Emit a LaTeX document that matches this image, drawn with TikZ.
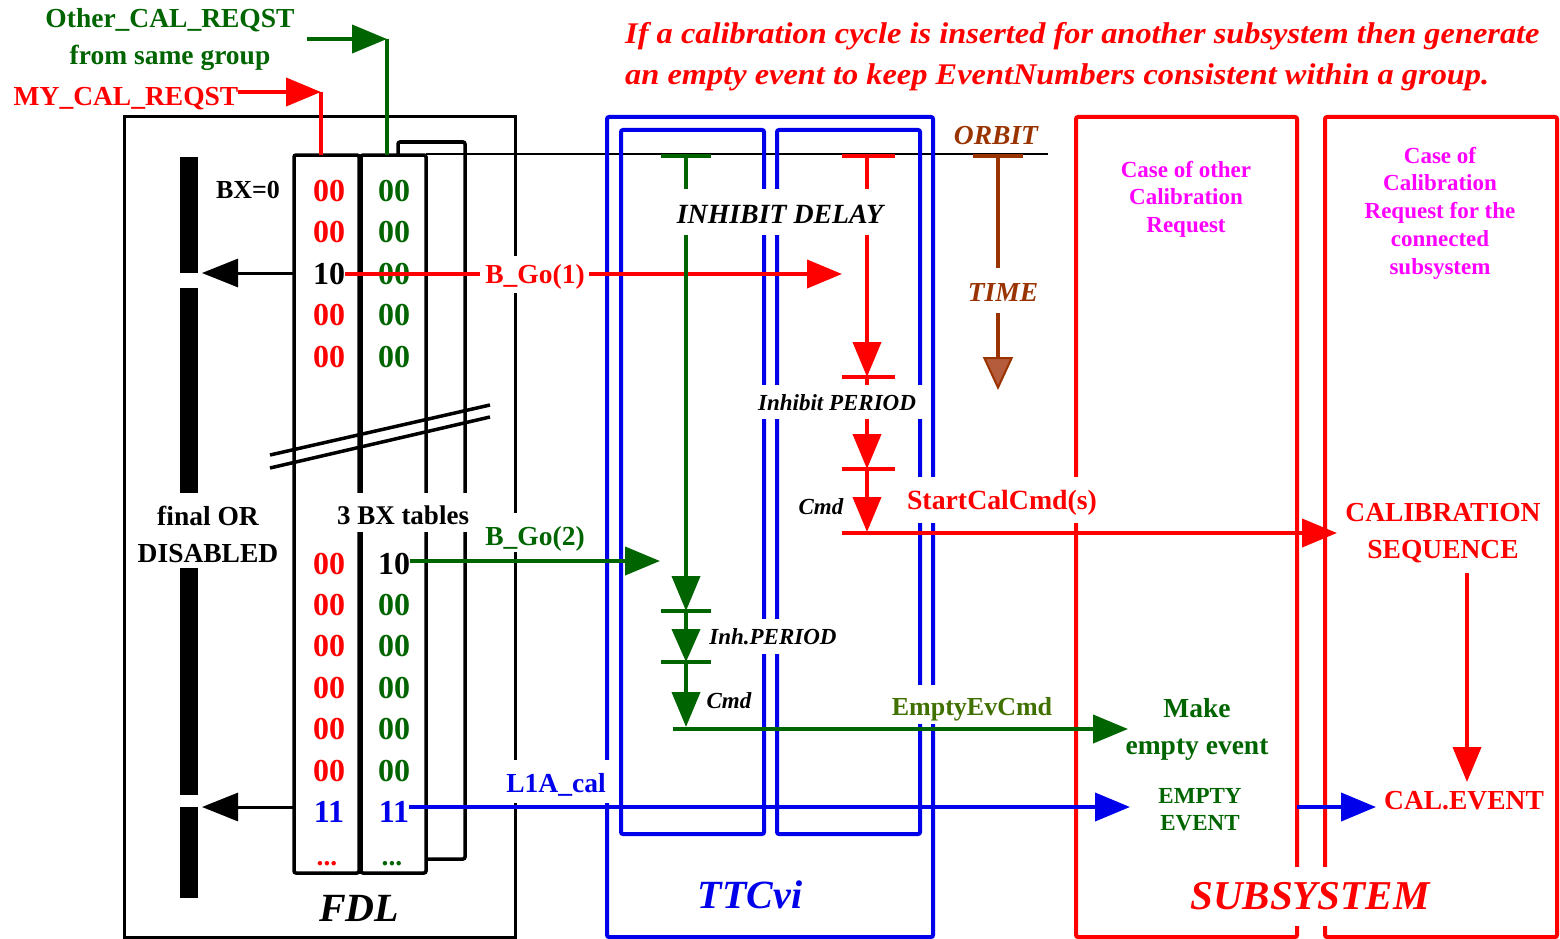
\documentclass[tikz,border=0pt]{standalone}
\usepackage{fontspec}
\setmainfont{Liberation Serif}
\usetikzlibrary{arrows.meta}
\definecolor{cred}{RGB}{255,0,0}
\definecolor{cgreen}{RGB}{0,100,0}
\definecolor{cblue}{RGB}{0,0,235}
\definecolor{cmag}{RGB}{255,0,255}
\definecolor{cbrown}{RGB}{153,51,0}
\definecolor{cbrownfill}{RGB}{181,92,60}
\definecolor{colive}{RGB}{64,112,0}
\begin{document}
\begin{tikzpicture}[x=1pt,y=-1pt,
  fb/.style={font=\bfseries\fontsize{27.5}{32}\selectfont, inner sep=0pt},
  fbi/.style={font=\bfseries\itshape\fontsize{27.5}{32}\selectfont, inner sep=0pt},
  fbig/.style={font=\bfseries\itshape\fontsize{41}{45}\selectfont, inner sep=0pt},
  fsm/.style={font=\bfseries\itshape\fontsize{23}{27}\selectfont, inner sep=0pt},
  dig/.style={font=\bfseries\fontsize{32}{36}\selectfont, inner sep=0pt},
  gap/.style={fill=white},
  blk/.style={draw=black, line width=3pt},
  tab/.style={draw=black, line width=3.5pt, rounded corners=2pt},
  bbox/.style={draw=cblue, line width=4pt, rounded corners=2pt},
  rbox/.style={draw=cred, line width=4pt, rounded corners=2pt},
  tip/.style={-{Triangle[length=35pt,width=28pt]}},
  redl/.style={draw=cred, line width=4pt},
  grnl/.style={draw=cgreen, line width=4pt},
  blul/.style={draw=cblue, line width=4pt},
  brnl/.style={draw=cbrown, line width=4pt}
]
\useasboundingbox (0,0) rectangle (1560,939);

% ---------------- FDL structure ----------------
\draw[blk] (124,117) rectangle (515,937);
\draw[tab] (294,155) rectangle (359,873);
\draw[tab] (361,155) rectangle (426,873);
\draw[tab] (398,155) -- (398,142) -- (465,142) -- (465,859) -- (426,859);
\draw[line width=1.5pt] (426,154) -- (1048,154);
% final OR bar
\fill (180,157) rectangle (198,273);
\fill (180,288) rectangle (198,493);
\fill (180,568) rectangle (198,795);
\fill (180,807) rectangle (198,898);
% break marks
\draw[line width=3.5pt] (270,455) -- (490,405);
\draw[line width=3.5pt] (270,468) -- (490,417);

% ---------------- TTCvi ----------------
\draw[bbox] (607,117) rectangle (933,937);
\draw[bbox] (621,130) rectangle (764,834);
\draw[bbox] (777,130) rectangle (920,834);

% ---------------- SUBSYSTEM ----------------
\draw[rbox] (1076,117) rectangle (1297,937);
\draw[rbox] (1325,117) rectangle (1557,937);

% ---------------- table entries ----------------
\foreach \y/\n in {191/1,232/2,315/4,357/5}{
  \node[dig,text=cred] (ra\n) at (329,\y) {00};
  \node[dig,text=cgreen] (ga\n) at (394,\y) {00};
}
\node[dig] (ra3) at (329,274) {10};
\node[dig,text=cgreen] (ga3) at (394,274) {00};
\node[dig,text=cred] (rb1) at (329,564) {00};
\node[dig] (gb1) at (394,564) {10};
\foreach \y/\n in {605/2,646/3,688/4,729/5,771/6}{
  \node[dig,text=cred] (rb\n) at (329,\y) {00};
  \node[dig,text=cgreen] (gb\n) at (394,\y) {00};
}
\node[dig,text=cblue] (rb7) at (329,812) {11};
\node[dig,text=cblue] (gb7) at (394,812) {11};
\node[fb,text=cred,anchor=base] (rdots) at (327,865) {...};
\node[fb,text=cgreen,anchor=base] (gdots) at (392,865) {...};

% ---------------- coordinates ----------------
\coordinate (tabL1) at (294,273);
\coordinate (orTip1) at (202,273);
\coordinate (tabL2) at (294,807);
\coordinate (orTip2) at (202,807);
\coordinate (myS) at (238,92);
\coordinate (myC) at (321,92);
\coordinate (myE) at (321,155);
\coordinate (otS) at (307,39);
\coordinate (otC) at (387,39);
\coordinate (otE) at (387,155);
\coordinate (go1E) at (842,274);
\coordinate (go2E) at (660,561);
\coordinate (l1E) at (1130,807);
\coordinate (rT0) at (867,156);
\coordinate (rT1) at (867,377);
\coordinate (rT2) at (867,469);
\coordinate (rT3) at (867,532);
\coordinate (scS) at (842,533);
\coordinate (scE) at (1337,533);
\coordinate (gT0) at (686,156);
\coordinate (gT1) at (686,611);
\coordinate (gT2) at (686,662);
\coordinate (gT3) at (686,727);
\coordinate (eeS) at (673,729);
\coordinate (eeE) at (1128,729);
\coordinate (tmS) at (998,156);
\coordinate (tmE) at (998,390);
\coordinate (ceS) at (1297,807);
\coordinate (ceE) at (1376,807);
\coordinate (csS) at (1467,573);
\coordinate (csE) at (1467,782);

% ---------------- arrows ----------------
\draw[line width=3pt,-{Triangle[length=36pt,width=28pt]}] (tabL1) -- (orTip1);
\draw[line width=3pt,-{Triangle[length=36pt,width=28pt]}] (tabL2) -- (orTip2);

\draw[redl,tip] (myS) -- (myC);
\draw[redl] (myC) -- (myE);
\draw[grnl,tip] (otS) -- (otC);
\draw[grnl] (otC) -- (otE);

\draw[redl,tip] (ra3.east |- go1E) -- (go1E);
\draw[grnl,tip] (gb1.east |- go2E) -- (go2E);
\draw[blul,tip] (gb7.east |- l1E) -- (l1E);

% red chain
\draw[redl] (842,156) -- (895,156);
\draw[redl,tip] (rT0) -- (rT1);
\draw[redl] (842,377) -- (895,377);
\draw[redl,tip] (rT1) -- (rT2);
\draw[redl] (842,469) -- (895,469);
\draw[redl,tip] (rT2) -- (rT3);
\draw[redl,tip] (scS) -- (scE);

% green chain
\draw[grnl] (661,156) -- (711,156);
\draw[grnl,tip] (gT0) -- (gT1);
\draw[grnl] (661,611) -- (711,611);
\draw[grnl,-{Triangle[length=33pt,width=28pt]}] (gT1) -- (gT2);
\draw[grnl] (661,662) -- (711,662);
\draw[grnl,tip] (gT2) -- (gT3);
\draw[grnl,tip] (eeS) -- (eeE);

% time arrow
\draw[brnl] (973,156) -- (1023,156);
\draw[brnl,-{Triangle[length=33pt,width=30pt,fill=cbrownfill,line width=2pt]}] (tmS) -- (tmE);

% subsystem arrows
\draw[blul,tip] (ceS) -- (ceE);
\draw[redl,tip] (csS) -- (csE);

% ---------------- gaps behind labels ----------------
\fill[gap] (480,256) rectangle (589,293);
\fill[gap] (482,513) rectangle (590,552);
\fill[gap] (500,760) rectangle (618,803);
\fill[gap] (331,493) rectangle (472,532);
\fill[gap] (668,189) rectangle (892,235);
\fill[gap] (752,385) rectangle (923,419);
\fill[gap] (905,477) rectangle (1100,523);
\fill[gap] (706,619) rectangle (840,654);
\fill[gap] (890,685) rectangle (1055,724);
\fill[gap] (965,268) rectangle (1040,313);
\fill[gap] (1185,867) rectangle (1435,926);

% ---------------- labels ----------------
\node[fb,text=cred] (bgo1) at (535,277) {B\_Go(1)};
\node[fb,text=cgreen] (bgo2) at (535,539) {B\_Go(2)};
\node[fb,text=cblue] (l1a) at (556,785) {L1A\_cal};
\node[fb,font=\bfseries\fontsize{27}{32}\selectfont] (bxt) at (403,515) {3 BX tables};
\node[fbi,font=\bfseries\itshape\fontsize{27.8}{32}\selectfont] (idel) at (780,214) {INHIBIT DELAY};
\node[fsm] (iper) at (837,403) {Inhibit PERIOD};
\node[fb,font=\bfseries\fontsize{27.8}{32}\selectfont,text=cred] (scc) at (1002,503) {StartCalCmd(s)};
\node[fsm] (inhp) at (773,637) {Inh.PERIOD};
\node[fb,font=\bfseries\fontsize{26}{30}\selectfont,text=colive] (eec) at (972,709) {EmptyEvCmd};
\node[fbi,text=cbrown] (time) at (1003,292) {TIME};
\node[fbig,text=cred] (subs) at (1310,896) {SUBSYSTEM};

\node[fb,text=cgreen,align=center,font=\bfseries\fontsize{27.5}{37}\selectfont] (other) at (170,39) {Other\_CAL\_REQST\\from same group};
\node[fb,text=cred] (mycal) at (126,99) {MY\_CAL\_REQST};
\node[fb,font=\bfseries\fontsize{26}{30}\selectfont] (bx0) at (248,190) {BX=0};
\node[fb,align=center,font=\bfseries\fontsize{27.5}{37}\selectfont] (fin) at (208,534) {final OR\\DISABLED};
\node[fbig,font=\bfseries\itshape\fontsize{40}{44}\selectfont] (fdl) at (359,908) {FDL};
\node[fbig,font=\bfseries\itshape\fontsize{40}{44}\selectfont,text=cblue] (ttc) at (750,895) {TTCvi};
\node[fbi,text=cbrown] (orbit) at (996,136) {ORBIT};
\node[fsm] (cmd1) at (821,507) {Cmd};
\node[fsm] (cmd2) at (729,701) {Cmd};
\node[fb,text=cmag,align=center,font=\bfseries\fontsize{23}{27.5}\selectfont] (caseo) at (1186,199) {Case of other\\Calibration\\Request};
\node[fb,text=cmag,align=center,font=\bfseries\fontsize{23}{27.7}\selectfont] (casec) at (1440,213) {Case of\\Calibration\\Request for the\\connected\\subsystem};
\node[fb,text=cred,align=center,font=\bfseries\fontsize{27.5}{37}\selectfont] (calseq) at (1443,533) {CALIBRATION\\SEQUENCE};
\node[fb,text=cgreen,align=center,font=\bfseries\fontsize{27.5}{37}\selectfont] (make) at (1197,729) {Make\\empty event};
\node[fb,text=cgreen,align=center,font=\bfseries\fontsize{23}{27}\selectfont] (empt) at (1200,810) {EMPTY\\EVENT};
\node[fb,text=cred] (calev) at (1464,801) {CAL.EVENT};
\node[fbi,text=cred,anchor=west,font=\bfseries\itshape\fontsize{30}{34}\selectfont] (t1) at (625,36) {\scalebox{1.08}[1]{If a calibration cycle is inserted for another subsystem then generate}};
\node[fbi,text=cred,anchor=west,font=\bfseries\itshape\fontsize{30}{34}\selectfont] (t2) at (625,77) {\scalebox{1.08}[1]{an empty event to keep EventNumbers consistent within a group.}};
\end{tikzpicture}
\end{document}
